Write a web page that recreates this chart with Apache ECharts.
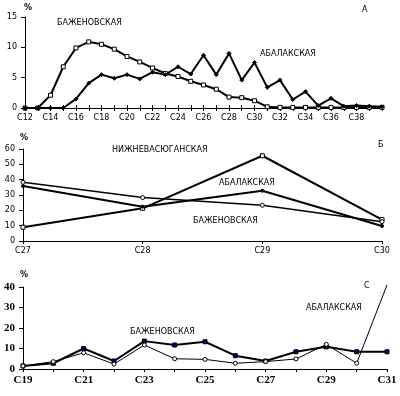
<!DOCTYPE html>
<html><head><meta charset="utf-8">
<script src="https://cdn.jsdelivr.net/npm/echarts@6/dist/echarts.min.js"></script>
<style>html,body{margin:0;padding:0;background:#fff}#c{width:400px;height:396px}</style>
</head><body><div id="c"></div>
<script>
// Panel A
var catsA = ['C12','C13','C14','C15','C16','C17','C18','C19','C20','C21','C22','C23','C24','C25','C26','C27','C28','C29','C30','C31','C32','C33','C34','C35','C36','C37','C38','C39','C40'];
var bazhA = [0,0,2.1,6.8,9.9,10.9,10.5,9.7,8.5,7.6,6.6,5.7,5.2,4.4,3.8,3.1,1.8,1.7,1.2,0.2,0.1,0.1,0.1,0.1,0.1,0.1,0.1,0.1,0.1];
var abalA = [0,0,0,0,1.5,4.1,5.5,4.9,5.5,4.8,5.9,5.5,6.8,5.6,8.7,5.5,9.0,4.6,7.5,3.4,4.6,1.4,2.7,0.4,1.6,0.3,0.4,0.3,0.2];
var yTicksA = [0,5,10,15];
// Panel B
var catsB = ['C27','C28','C29','C30'];
var nizhB = [9,21.3,55.6,14];
var abalB = [35.9,22.4,32.8,9.8];
var bazhB = [38.3,28.3,23.3,12.6];
var yTicksB = [0,10,20,30,40,50,60];
// Panel C
var catsC = ['C19','C20','C21','C22','C23','C24','C25','C26','C27','C28','C29','C30','C31'];
var bazhC = [1.5,2.8,10,3.9,13.6,11.7,13.3,6.5,3.9,8.4,10.8,8.4,8.4];
var abalC = [1.5,3.6,7.9,2.4,11.7,5,4.7,2.8,3.6,4.9,12,2.8,41];
var yTicksC = [0,10,20,30,40];

var sans = 'DejaVu Sans';
var serif = 'Liberation Serif';
var axLine = {lineStyle:{color:'#000',width:1}};
function xAx(idx, cats, lblInterval, font, size, weight){
  return {type:'category', gridIndex:idx, data:cats, boundaryGap:false,
    axisLine:axLine, axisTick:{show:true, interval:0, length:3, lineStyle:{color:'#000'}},
    axisLabel:{interval:lblInterval, color:'#000', fontFamily:font, fontSize:size, fontWeight:weight, margin:6},
    splitLine:{show:false}};
}
function yAx(idx, ticks, font, size, weight){
  return {type:'value', gridIndex:idx, min:ticks[0], max:ticks[ticks.length-1], interval:ticks[1]-ticks[0],
    axisLine:{show:true, lineStyle:{color:'#000',width:1}}, axisTick:{show:true, length:4, lineStyle:{color:'#000'}},
    axisLabel:{color:'#000', fontFamily:font, fontSize:size, fontWeight:weight, margin:8},
    splitLine:{show:false}};
}
function ser(xi, data, sym, fill, size, lw){
  return {type:'line', xAxisIndex:xi, yAxisIndex:xi, data:data, symbol:sym, symbolSize:size, showAllSymbol:true,
    clip:false, animation:false,
    lineStyle:{color:'#000', width:lw}, itemStyle:{color:fill, borderColor:'#000', borderWidth:1}};
}
function txt(x,y,t,font,size,weight){
  return {type:'text', left:x, top:y, style:{text:t, font:(weight||'normal')+' '+size+'px "'+font+'"', fill:'#000'}};
}
var xAxes = [
  xAx(0, catsA, function(i){return i%2===0 && i<28;}, sans, 8, 'normal'),
  xAx(1, catsB, 0, sans, 8, 'normal'),
  xAx(2, catsC, 1, serif, 11, 'bold')
];
// inner ticks for panel A (ticks crossing the axis)
var innerA = {type:'category', gridIndex:0, data:catsA, boundaryGap:false, position:'bottom',
  axisLine:{show:false}, axisTick:{show:true, inside:true, interval:0, length:3, lineStyle:{color:'#000'}},
  axisLabel:{show:false}, splitLine:{show:false}};
xAxes.push(innerA);
var abalCData = abalC.map(function(v,i){ return i===abalC.length-1 ? {value:v, symbol:'none'} : v; });
var chart = echarts.init(document.getElementById('c'), null, {renderer:'canvas'});
chart.setOption({
  animation:false,
  backgroundColor:'#fff',
  grid:[
    {left:25, right:18, top:17, bottom:288},
    {left:23, right:18, top:149, bottom:155},
    {left:23, right:13, top:287, bottom:27}
  ],
  xAxis:xAxes,
  yAxis:[
    yAx(0, yTicksA, sans, 8, 'normal'),
    yAx(1, yTicksB, sans, 8, 'normal'),
    yAx(2, yTicksC, serif, 11, 'bold')
  ],
  series:[
    ser(0, bazhA, 'rect', '#fff', 4, 2),
    ser(0, abalA, 'diamond', '#000', 4, 2),
    ser(1, nizhB, 'rect', '#fff', 4, 2),
    ser(1, abalB, 'circle', '#000', 3, 2),
    ser(1, bazhB, 'circle', '#fff', 4, 1.5),
    ser(2, bazhC, 'rect', '#000080', 4, 2),
    ser(2, abalCData, 'circle', '#fff', 4, 1)
  ],
  graphic:[
    txt(24,4,'%',sans,8,'bold'),
    txt(362,6,'А',sans,8),
    txt(57,19,'БАЖЕНОВСКАЯ',sans,8),
    txt(260,50,'АБАЛАКСКАЯ',sans,8),
    txt(20,134,'%',sans,8,'bold'),
    txt(378,141,'Б',sans,8),
    txt(112,146,'НИЖНЕВАСЮГАНСКАЯ',sans,8),
    txt(219,179,'АБАЛАКСКАЯ',sans,8),
    txt(193,217,'БАЖЕНОВСКАЯ',sans,8),
    txt(20,271,'%',sans,8,'bold'),
    txt(364,282,'С',sans,8),
    txt(306,304,'АБАЛАКСКАЯ',sans,8),
    txt(130,328,'БАЖЕНОВСКАЯ',sans,8)
  ]
});
</script></body></html>
